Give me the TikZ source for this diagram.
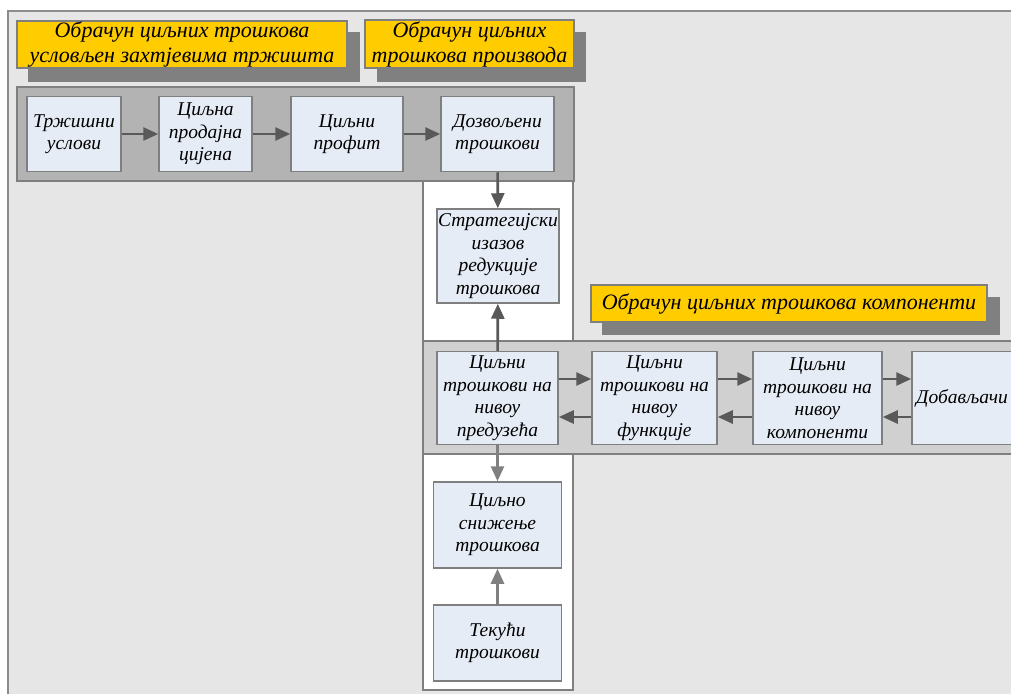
\documentclass[tikz,border=0pt]{standalone}
\usepackage{fontspec}
\setmainfont{Liberation Serif}
\usetikzlibrary{arrows.meta}
\definecolor{framefill}{HTML}{E6E6E6}
\definecolor{frameline}{HTML}{8C8C8C}
\definecolor{bandA}{HTML}{B3B3B3}
\definecolor{bandB}{HTML}{D0D0D0}
\definecolor{boxfill}{HTML}{E6ECF6}
\definecolor{boxline}{HTML}{7F7F7F}
\definecolor{titleyellow}{HTML}{FFCC00}
\definecolor{shadowgray}{HTML}{808080}
\definecolor{arrowdark}{HTML}{595959}
\definecolor{arrowlight}{HTML}{808080}
\tikzset{
  stepbox/.style={draw=boxline, fill=boxfill, line width=1.5pt, inner sep=0pt, align=center,
    font=\fontsize{19.5}{22.5}\selectfont\itshape},
  titlebox/.style={draw=boxline, fill=titleyellow, line width=1.2pt, inner sep=0pt, align=center,
    font=\fontsize{22}{25}\selectfont\itshape},
  shadowbox/.style={fill=shadowgray},
  band/.style={draw=boxline, line width=2pt},
  darrow/.style={draw=arrowdark, line width=2.6pt, -{Triangle[length=15pt,width=13pt]}, arrowdark},
  larrow/.style={draw=arrowlight, line width=2.6pt, -{Triangle[length=15pt,width=13pt]}, arrowlight},
}
\begin{document}
\begin{tikzpicture}[x=1pt,y=-1pt]
\useasboundingbox (0,0) rectangle (1011,693);
\clip (0,0) rectangle (1011,693);
% outer frame
\draw[draw=frameline, fill=framefill, line width=2pt] (8,11) rectangle (1030,710);
% title shadows and boxes
\fill[shadowbox] (28,32) rectangle (360,82);
\node[titlebox, minimum width=330pt, minimum height=47pt] (t1) at (182,44.5) {Обрачун циљних трошкова\\условљен захтјевима тржишта};
\fill[shadowbox] (377,32) rectangle (586,82);
\node[titlebox, minimum width=209pt, minimum height=48pt] (t2) at (469.5,44) {Обрачун циљних\\трошкова производа};
\fill[shadowbox] (602,297) rectangle (1000,335);
\node[titlebox, minimum width=396pt, minimum height=37pt] (t3) at (789,303.5) {Обрачун циљних трошкова компоненти};
% bands
\draw[band, fill=bandA] (17,87) rectangle (574,181);
\draw[band, fill=white] (423,181) rectangle (573,690);
\draw[band, fill=bandB] (423,341) rectangle (1030,454);
% top row
\node[stepbox, minimum width=94pt, minimum height=75pt] (tr) at (74,134) {Тржишни\\услови};
\node[stepbox, minimum width=93pt, minimum height=75pt] (cpc) at (205.5,134) {Циљна\\продајна\\цијена};
\node[stepbox, minimum width=112pt, minimum height=75pt] (cp) at (347,134) {Циљни\\профит};
\node[stepbox, minimum width=113pt, minimum height=75pt] (dt) at (497.5,134) {Дозвољени\\трошкови};
% strategic
\node[stepbox, minimum width=122pt, minimum height=94pt] (st) at (498,256) {Стратегијски\\изазов\\редукције\\трошкова};
% second row
\node[stepbox, minimum width=121pt, minimum height=93pt] (p1) at (497.5,398) {Циљни\\трошкови на\\нивоу\\предузећа};
\node[stepbox, minimum width=125pt, minimum height=93pt] (p2) at (654.5,398) {Циљни\\трошкови на\\нивоу\\функције};
\node[stepbox, minimum width=129pt, minimum height=93pt] (p3) at (817.5,398) {Циљни\\трошкови на\\нивоу\\компоненти};
\node[stepbox, minimum width=100pt, minimum height=93pt] (dob) at (962,398) {Добављачи};
% lower column
\node[stepbox, minimum width=128pt, minimum height=86pt] (cs) at (497.5,525) {Циљно\\снижење\\трошкова};
\node[stepbox, minimum width=128pt, minimum height=76pt] (tk) at (497.5,643) {Текући\\трошкови};
% arrows
\draw[darrow] (tr) -- (cpc);
\draw[darrow] (cpc) -- (cp);
\draw[darrow] (cp) -- (dt);
\draw[darrow] (dt) -- (st);
\draw[darrow] (p1) -- (st);
\draw[darrow] ([yshift=19pt]p1.east) -- ([yshift=19pt]p2.west);
\draw[darrow] ([yshift=19pt]p2.east) -- ([yshift=19pt]p3.west);
\draw[darrow] ([yshift=19pt]p3.east) -- ([yshift=19pt]dob.west);
\draw[darrow] ([yshift=-19pt]dob.west) -- ([yshift=-19pt]p3.east);
\draw[darrow] ([yshift=-19pt]p3.west) -- ([yshift=-19pt]p2.east);
\draw[darrow] ([yshift=-19pt]p2.west) -- ([yshift=-19pt]p1.east);
\draw[larrow] (p1) -- (cs);
\draw[larrow] (tk) -- (cs);
\end{tikzpicture}
\end{document}
